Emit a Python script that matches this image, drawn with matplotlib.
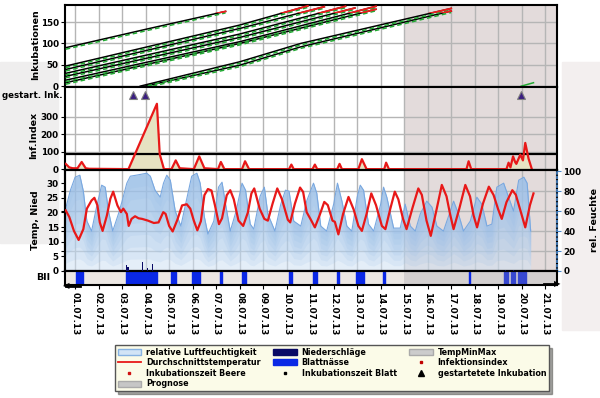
import matplotlib.pyplot as plt
import matplotlib.transforms as mtransforms
from matplotlib.patches import Patch, Rectangle
from matplotlib.lines import Line2D

# x axis: day of July 2013 (1.0 = 01.07.13 00:00)
tick_days = list(range(1, 22))
date_labels = ['%02d.07.13' % d for d in tick_days]
forecast_start = 15.0
x_min, x_max = 0.57, 21.5

# Inkubationen (pairs of lines)
ink_a_days = [0.6, 4.0, 7.4]
ink_a_vals = [90, 133, 175]
ink_b1_days = [0.6, 8.0, 10.9]
ink_b1_vals = [47, 143, 188]
ink_b2_days = [0.6, 8.0, 11.6]
ink_b2_vals = [39, 135, 186]
ink_c1_days = [0.6, 8.0, 12.5]
ink_c1_vals = [30, 122, 187]
ink_c2_days = [0.6, 8.0, 12.9]
ink_c2_vals = [23, 114, 183]
ink_d1_days = [0.6, 8.0, 13.8]
ink_d1_vals = [14, 104, 187]
ink_d2_days = [0.6, 8.0, 13.8]
ink_d2_vals = [8, 100, 180]
ink_e1_days = [3.77, 8.0, 10.6, 17.0]
ink_e1_vals = [0, 57, 100, 182]
ink_e2_days = [3.98, 8.0, 10.6, 17.0]
ink_e2_vals = [0, 49, 92, 176]
ink_f_days = [19.98, 20.5]
ink_f_vals = [0, 8]

# gestartete Inkubation
start_days = [3.48, 3.98, 19.98]

# Infektionsindex
inf_days = [0.6, 0.75, 0.9, 1.1, 1.28, 1.45, 1.6, 3.27, 4.48, 4.6, 4.78, 5.1, 5.28, 5.45,
            6.05, 6.28, 6.5, 7.08, 7.2, 7.35, 8.1, 8.23, 8.4, 10.1, 10.2, 10.3, 11.1, 11.2,
            11.3, 12.15, 12.25, 12.35, 13.05, 13.2, 13.4, 14.15, 14.23, 14.35, 17.65, 17.74,
            17.85, 19.35, 19.44, 19.52, 19.63, 19.72, 19.77, 19.94, 20.05, 20.15, 20.29, 20.43]
inf_vals = [30, 10, 5, 5, 41, 5, 2, 0, 374, 85, 0, 0, 50, 5,
            0, 73, 5, 0, 41, 0, 0, 45, 0, 0, 26, 0, 0, 26,
            0, 0, 30, 0, 0, 57, 0, 0, 37, 0, 0, 45,
            0, 0, 37, 10, 73, 40, 30, 83, 50, 150, 60, 0]

# Durchschnittstemperatur
temp_days = [0.6, 0.75, 0.95, 1.15, 1.35, 1.5, 1.7, 1.82, 1.95, 2.05, 2.17, 2.35, 2.5, 2.62,
             2.8, 2.95, 3.05, 3.2, 3.28, 3.4, 3.55, 3.7, 3.85, 4.1, 4.35, 4.55, 4.75, 4.85,
             5.0, 5.15, 5.35, 5.55, 5.75, 5.9, 6.05, 6.2, 6.35, 6.5, 6.65, 6.8, 6.95, 7.12,
             7.25, 7.45, 7.6, 7.75, 7.95, 8.15, 8.35, 8.5, 8.62, 8.85, 9.05, 9.2, 9.4, 9.6,
             9.8, 10.05, 10.15, 10.35, 10.57, 10.7, 10.85, 11.05, 11.2, 11.4, 11.6, 11.75,
             11.95, 12.05, 12.2, 12.4, 12.63, 12.85, 13.05, 13.2, 13.4, 13.6, 13.8, 14.05,
             14.2, 14.4, 14.6, 14.75, 14.95, 15.1, 15.35, 15.6, 15.75, 15.95, 16.13, 16.35,
             16.6, 16.8, 16.95, 17.1, 17.35, 17.6, 17.8, 17.95, 18.1, 18.35, 18.6, 18.8,
             19.0, 19.15, 19.35, 19.6, 19.75, 19.95, 20.15, 20.35, 20.5]
temp_vals = [20.7, 18.5, 13.7, 10.6, 14.3, 21.3, 24.1, 25.0, 22.4, 16.6, 13.7, 18.9, 24.7, 27.1,
             22.4, 20.1, 21.3, 19.5, 15.4, 17.8, 18.7, 18.0, 17.8, 17.2, 16.4, 16.6, 20.1, 19.5,
             15.4, 13.5, 17.5, 22.4, 22.8, 21.3, 17.2, 13.9, 17.0, 25.9, 28.0, 27.5, 22.4, 16.0,
             18.0, 25.9, 27.6, 24.5, 17.2, 15.4, 20.0, 26.5, 28.2, 21.3, 17.8, 17.2, 23.0, 28.2,
             24.5, 17.5, 16.6, 23.0, 28.5, 27.0, 20.1, 17.2, 14.9, 19.0, 23.6, 22.5,
             17.2, 16.8, 12.5, 19.5, 25.3, 21.0, 15.4, 13.7, 19.5, 26.5, 22.5, 15.4,
             14.3, 21.0, 27.1, 24.5, 17.8, 14.3, 21.5, 28.2, 26.0, 17.2, 12.0, 20.0,
             29.4, 25.5, 19.5, 14.3, 21.5, 29.4, 25.5, 19.0, 14.9, 23.0, 28.8, 26.0,
             21.0, 17.8, 23.5, 27.6, 26.0, 20.5, 14.9, 22.5, 26.5]

# relative Luftfeuchtigkeit
hum_days = [0.57, 0.8, 1.0, 1.2, 1.35, 1.5, 1.7, 1.92, 2.13, 2.28, 2.42, 2.6, 2.84, 3.0,
            3.2, 3.35, 3.6, 4.05, 4.2, 4.4, 4.62, 4.76, 4.9, 5.05, 5.26, 5.5, 5.7, 5.96,
            6.18, 6.32, 6.5, 6.65, 6.9, 7.1, 7.25, 7.4, 7.6, 7.85, 8.1, 8.25, 8.45, 8.6,
            8.87, 9.05, 9.2, 9.5, 9.75, 9.95, 10.1, 10.3, 10.6, 10.85, 11.14, 11.28, 11.45,
            11.7, 12.0, 12.16, 12.35, 12.56, 12.77, 13.0, 13.13, 13.27, 13.48, 13.7, 14.0,
            14.12, 14.26, 14.55, 14.83, 15.04, 15.26, 15.47, 15.68, 15.96, 16.18, 16.39,
            16.67, 16.96, 17.1, 17.31, 17.52, 17.81, 18.09, 18.3, 18.52, 18.73, 18.94,
            19.23, 19.44, 19.65, 19.87, 20.09, 20.23, 20.38]
hum_vals = [60, 81, 94, 96, 80, 50, 40, 65, 86, 84, 60, 40, 57, 70,
            88, 95, 96, 98, 95, 81, 74, 88, 96, 91, 60, 45, 67, 95,
            98, 88, 54, 37, 50, 84, 89, 67, 40, 60, 88, 81, 47, 42,
            75, 84, 57, 40, 67, 81, 80, 50, 45, 70, 88, 78, 45,
            40, 67, 88, 70, 45, 40, 74, 86, 81, 47, 40, 67,
            84, 74, 43, 43, 67, 45, 40, 57, 70, 64, 45,
            40, 60, 70, 57, 40, 50, 74, 67, 45, 47, 84,
            88, 74, 60, 91, 94, 88, 40]

# Niederschläge
rain_days = [3.2, 3.25, 3.88, 4.07, 4.3, 19.3, 19.64]
rain_vals = [2.1, 1.4, 3.0, 1.0, 2.3, 0.5, 0.5]

# Blattnässe (start, duration in days)
wet_starts = [1.04, 3.17, 5.09, 5.97, 7.17, 8.09, 10.12, 11.14, 12.16, 12.96, 14.09, 17.74]
wet_lengths = [0.29, 1.33, 0.21, 0.35, 0.07, 0.17, 0.1, 0.14, 0.07, 0.31, 0.1, 0.07]
wet_fc_starts = [19.26, 19.54, 19.86]
wet_fc_lengths = [0.14, 0.18, 0.33]

plt.rcParams['font.family'] = ['DejaVu Sans']
plt.rcParams['font.size'] = 6
plt.rcParams['font.weight'] = 'bold'

W_PX, H_PX = 600, 398
fig = plt.figure(figsize=(W_PX / 100, H_PX / 100), dpi=100)


def box(top, bottom):
    return [65 / W_PX, 1 - bottom / H_PX, 492 / W_PX, (bottom - top) / H_PX]


# page-like grey side areas
fig.patches.append(Rectangle((0, 1 - 243 / H_PX), 58 / W_PX, 181 / H_PX, transform=fig.transFigure,
                             color='#efeeee', zorder=-5))
fig.patches.append(Rectangle((562 / W_PX, 1 - 330 / H_PX), 38 / W_PX, 268 / H_PX,
                             transform=fig.transFigure, color='#f3efef', zorder=-5))

ax_ink = fig.add_axes(box(5, 87))
ax_inf = fig.add_axes(box(87, 170), sharex=ax_ink)
ax_h = fig.add_axes(box(170, 271), sharex=ax_ink)
ax_t = ax_h.twinx()
ax_b = fig.add_axes(box(271, 285), sharex=ax_ink)

grid_col = '#b5b5b5'
fc_col = '#e3dbdb'
lab_size = 6.8

for ax in (ax_ink, ax_inf, ax_h):
    ax.axvspan(forecast_start, x_max, color=fc_col, zorder=0, lw=0)
    ax.set_axisbelow(True)
    ax.grid(True, color=grid_col, lw=1)
    ax.tick_params(axis='x', labelbottom=False, length=0)
    ax.tick_params(axis='y', length=3, pad=1.5, labelsize=6.3)
    for s in ax.spines.values():
        s.set_linewidth(1.5)

ax_ink.set_xlim(x_min, x_max)
ax_ink.set_xticks(tick_days)

# --- Inkubationen ---
ax_ink.set_ylim(-2, 190)
ax_ink.set_yticks([0, 50, 100, 150])
ax_ink.set_ylabel('Inkubationen', fontsize=lab_size, fontweight='bold')
ax_ink.yaxis.set_label_coords(-0.05, 0.52)
green_off = mtransforms.offset_copy(ax_ink.transData, fig=fig, x=0, y=-1.5, units='dots')
red_zone = Rectangle((x_min, 172), x_max - x_min, 40, transform=ax_ink.transData)
ink_lines = [(ink_a_days, ink_a_vals), (ink_b1_days, ink_b1_vals), (ink_b2_days, ink_b2_vals),
             (ink_c1_days, ink_c1_vals), (ink_c2_days, ink_c2_vals), (ink_d1_days, ink_d1_vals),
             (ink_d2_days, ink_d2_vals), (ink_e1_days, ink_e1_vals), (ink_e2_days, ink_e2_vals)]
for d, v in ink_lines:
    ax_ink.plot(d, v, color='black', lw=1.1, zorder=3)
    ax_ink.plot(d, v, color='#22aa33', lw=1.1, ls=(0, (3, 2)), transform=green_off, zorder=4)
    red, = ax_ink.plot(d, v, color='#ee1c1c', lw=1.3, zorder=5)
    red.set_clip_path(red_zone)
ax_ink.plot(ink_f_days, ink_f_vals, color='#22aa33', lw=1.1, zorder=4)

# --- Infektionsindex ---
ax_inf.set_ylim(-5, 470)
ax_inf.set_yticks([0, 100, 200, 300])
ax_inf.set_ylabel('Inf.Index', fontsize=lab_size, fontweight='bold')
ax_inf.yaxis.set_label_coords(-0.055, 0.42)
ax_inf.fill_between(inf_days, inf_vals, color='#e6e2c2', lw=0, zorder=2)
ax_inf.plot(inf_days, inf_vals, color='#e81818', lw=1.6, zorder=4)
ax_inf.axhline(85, color='black', lw=1.6, zorder=3)
row = mtransforms.blended_transform_factory(ax_inf.transData, ax_inf.transAxes)
ax_inf.plot(start_days, [0.9] * len(start_days), ls='', marker='^', ms=5.5, mfc='#3b1f80',
            mec='#808080', mew=0.8, transform=row, zorder=6, clip_on=False)
fig.text(2 / W_PX, 1 - 95 / H_PX, 'gestart. Ink.', ha='left', va='center', fontsize=6.2,
         fontweight='bold')

# --- rel. Feuchte (lower layer) + Temperatur (upper layer) ---
ax_h.set_ylim(0, 101.2)
ax_h.set_yticks([20, 40, 60, 80])
ax_h.tick_params(axis='y', left=False, labelleft=False, right=False, labelright=False)
ax_h.fill_between(hum_days, hum_vals, color='#cfe1f4', alpha=0.55, lw=0, zorder=1)
layers = 8
for k in range(1, layers):
    ax_h.fill_between(hum_days, [v * k / layers for v in hum_vals], hum_vals,
                      color='#8fb8e6', alpha=0.14, lw=0, zorder=1)
ax_h.plot(hum_days, hum_vals, color='#79a8e0', lw=0.8, zorder=2)

ax_t.set_zorder(ax_h.get_zorder() + 1)
ax_t.patch.set_visible(False)
ax_t.set_ylim(0, 34.5)
ax_t.set_yticks([0, 5, 10, 15, 20, 25, 30])
ax_t.yaxis.tick_left()
ax_t.yaxis.set_label_position('left')
ax_t.tick_params(axis='y', length=3, pad=1.5, labelsize=6.3)
ax_t.set_ylabel('Temp, Nied', fontsize=lab_size, fontweight='bold')
ax_t.yaxis.set_label_coords(-0.05, 0.5)
ax_t.bar(rain_days, rain_vals, width=0.05, color='#0a0a66', zorder=3)
ax_t.plot(temp_days, temp_vals, color='#e81818', lw=1.6, zorder=4)
for s in ax_t.spines.values():
    s.set_linewidth(1.5)
ax_t.spines['right'].set_visible(False)

# right axis for humidity labels
ax_r = ax_h.twinx()
ax_r.set_ylim(0, 101.2)
ax_r.set_yticks([0, 20, 40, 60, 80, 100])
ax_r.tick_params(axis='y', length=3, pad=1.5, labelsize=6.3, color='#4a88cc')
ax_r.spines['right'].set_color('#4a88cc')
ax_r.spines['right'].set_linestyle(':')
ax_r.spines['right'].set_linewidth(1.2)
for side in ('top', 'bottom', 'left'):
    ax_r.spines[side].set_visible(False)
ax_r.set_ylabel('rel. Feuchte', fontsize=lab_size, fontweight='bold')
ax_r.yaxis.set_label_coords(1.068, 0.5)

# --- Blattnässe row ---
ax_b.set_facecolor('#ece7e3')
ax_b.axvspan(forecast_start, x_max, color='#d3cfcf', lw=0, zorder=0)
ax_b.set_ylim(0, 1)
ax_b.set_yticks([])
ax_b.broken_barh(list(zip(wet_starts, wet_lengths)), (0.05, 0.9), color='#0a28e6', zorder=2)
ax_b.broken_barh(list(zip(wet_fc_starts, wet_fc_lengths)), (0.05, 0.9), color='#3848d0', zorder=2)
ax_b.set_ylabel('BII', rotation=0, fontsize=lab_size, fontweight='bold', ha='right', va='center')
ax_b.yaxis.set_label_coords(-0.03, 0.5)
ax_b.set_xticks(tick_days)
ax_b.set_xticklabels(date_labels, rotation=-90, fontsize=6.3, fontweight='bold')
ax_b.tick_params(axis='x', length=3, pad=2)
for s in ax_b.spines.values():
    s.set_linewidth(1.5)

# navigation arrows
fig.add_artist(Line2D([66 / W_PX, 80 / W_PX], [1 - 286 / H_PX] * 2, color='black', lw=2))
fig.text(66 / W_PX, 1 - 286 / H_PX, '\u25c0', ha='center', va='center', fontsize=6)
fig.add_artist(Line2D([544 / W_PX, 556 / W_PX], [1 - 284 / H_PX] * 2, color='black', lw=2))
fig.text(557 / W_PX, 1 - 284 / H_PX, '\u25b6', ha='center', va='center', fontsize=6)

# --- legend ---
handles = [
    Patch(facecolor='#d2e4f6', edgecolor='#86b2e2'),
    Line2D([], [], color='#e81818', lw=1.3),
    Line2D([], [], ls='', marker='s', ms=2, color='#d01010'),
    Patch(facecolor='#c6c6c6', edgecolor='#aaaaaa'),
    Patch(facecolor='#0a0a66', edgecolor='#0a0a66'),
    Patch(facecolor='#0a28e6', edgecolor='#0a28e6'),
    Line2D([], [], ls='', marker='s', ms=1.5, color='black'),
    Patch(facecolor='#cccccc', edgecolor='#aaaaaa'),
    Line2D([], [], ls='', marker='s', ms=2, color='#c00000'),
    Line2D([], [], ls='', marker='^', ms=5, color='black'),
]
labels = ['relative Luftfeuchtigkeit', 'Durchschnittstemperatur', 'Inkubationszeit Beere',
          'Prognose', 'Niederschläge', 'Blattnässe', 'Inkubationszeit Blatt', 'TempMinMax',
          'Infektionsindex', 'gestartetete Inkubation']
leg = fig.legend(handles, labels, loc='center', bbox_to_anchor=(332 / W_PX, 1 - 368 / H_PX),
                 ncol=3, fontsize=5.8, frameon=True, facecolor='#fbfbe8', edgecolor='#555555',
                 fancybox=False, shadow=True, handlelength=2.9, handleheight=0.8,
                 labelspacing=0.2, columnspacing=1.6, borderpad=0.35, handletextpad=0.6)
leg.get_frame().set_linewidth(1.0)

fig.savefig('out.png', dpi=100, facecolor='white')
